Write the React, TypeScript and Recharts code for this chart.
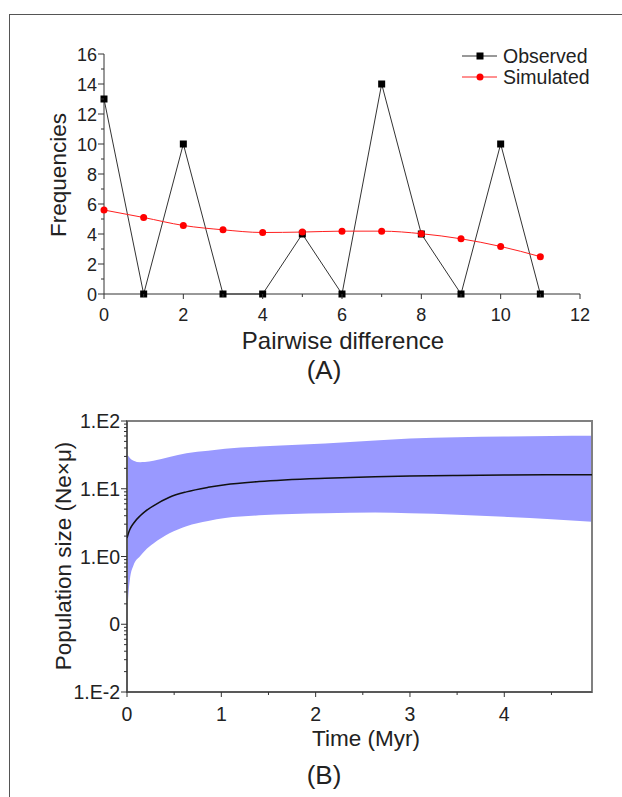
import React from "react";
import { ComposedChart, Line, Area, XAxis, YAxis, Legend, ReferenceArea } from "recharts";

const FONT = "'Liberation Sans', Arial, Helvetica, sans-serif";

// (A) mismatch distribution
const DIFF = [0, 1, 2, 3, 4, 5, 6, 7, 8, 9, 10, 11];
const OBSERVED = [13, 0, 10, 0, 0, 4, 0, 14, 4, 0, 10, 0];
const SIMULATED = [5.6, 5.1, 4.57, 4.28, 4.1, 4.13, 4.19, 4.19, 4.02, 3.68, 3.17, 2.49];
const DIFF_TICKS = [0, 1, 2, 3, 4, 5, 6, 7, 8, 9, 10, 11, 12];
const FREQ_TICKS = [0, 1, 2, 3, 4, 5, 6, 7, 8, 9, 10, 11, 12, 13, 14, 15, 16];

// (B) skyline plot
const TIME = [0, 0.01, 0.03, 0.07, 0.14, 0.19, 0.28, 0.45, 0.63, 0.86, 1.04, 1.4, 2.1, 2.63, 3, 3.5, 4, 4.5, 4.93];
const MEDIAN = [1.87, 2.1, 2.5, 3.1, 4.0, 4.6, 5.6, 7.5, 9.0, 10.5, 11.5, 12.8, 14.3, 15.0, 15.4, 15.7, 15.9, 16.05, 16.15];
const UPPER = [32, 31, 28.5, 26, 24.7, 24.8, 26, 29.5, 33.5, 36.5, 39, 42, 46.5, 51.5, 55, 57.5, 59, 60, 60.5];
const LOWER = [0.09, 0.2, 0.45, 0.75, 1.02, 1.22, 1.55, 2.2, 2.8, 3.35, 3.7, 4.05, 4.35, 4.45, 4.35, 4.15, 3.85, 3.55, 3.25];
const TIME_TICKS = [0, 0.5, 1, 1.5, 2, 2.5, 3, 3.5, 4, 4.5];
const TIME_MAX = 4.93;
const POP_MAJOR = [0.01, 0.1, 1, 10, 100];
const POP_LABELS = ["1.E-2", "0", "1.E0", "1.E1", "1.E2"];
const POP_MINOR = [
  0.02, 0.03, 0.04, 0.05, 0.06, 0.07, 0.08, 0.09,
  0.2, 0.3, 0.4, 0.5, 0.6, 0.7, 0.8, 0.9,
  2, 3, 4, 5, 6, 7, 8, 9,
  20, 30, 40, 50, 60, 70, 80, 90,
];

const freqData = DIFF.map((d, i) => ({ d, obs: OBSERVED[i], sim: SIMULATED[i] }));
const popData = TIME.map((t, i) => ({ t, band: [LOWER[i], UPPER[i]], med: MEDIAN[i] }));

const AXIS = "#333";
const TXT = "#222";

// ticks: axis sits tickSize + tickMargin (6 + 2) away from the label anchor
const FreqXTick = ({ x, y, payload }: any) => {
  const v = payload.value;
  const axisY = y - 8;
  const major = v % 2 === 0;
  return (
    <g>
      <line x1={x} x2={x} y1={axisY} y2={axisY + (major ? 5 : 3)} stroke={AXIS} />
      {major && (
        <text x={x} y={axisY + 26.5} textAnchor="middle" fontSize={18} fill={TXT} fontFamily={FONT}>
          {v}
        </text>
      )}
    </g>
  );
};

const FreqYTick = ({ x, y, payload }: any) => {
  const v = payload.value;
  const axisX = x + 8;
  const major = v % 2 === 0;
  return (
    <g>
      <line x1={axisX} x2={axisX - (major ? 6 : 3)} y1={y} y2={y} stroke={AXIS} />
      {major && (
        <text x={axisX - 7} y={y + 6.5} textAnchor="end" fontSize={18} fill={TXT} fontFamily={FONT}>
          {v}
        </text>
      )}
    </g>
  );
};

const TimeTick = ({ x, y, payload }: any) => {
  const v = payload.value;
  const axisY = y - 8;
  const major = Number.isInteger(v);
  return (
    <g>
      <line x1={x} x2={x} y1={axisY} y2={axisY + (major ? 5 : 3)} stroke={AXIS} />
      {major && (
        <text x={x} y={axisY + 29} textAnchor="middle" fontSize={19.5} fill={TXT} fontFamily={FONT}>
          {v}
        </text>
      )}
    </g>
  );
};

const PopTick = ({ x, y, payload }: any) => {
  const v = payload.value;
  const axisX = x + 8;
  const idx = POP_MAJOR.findIndex((m) => Math.abs(m - v) < m * 1e-6);
  const major = idx >= 0;
  return (
    <g>
      <line x1={axisX} x2={axisX - (major ? 6 : 3)} y1={y} y2={y} stroke={AXIS} />
      {major && (
        <text x={axisX - 7} y={y + 7} textAnchor="end" fontSize={19.5} fill={TXT} fontFamily={FONT}>
          {POP_LABELS[idx]}
        </text>
      )}
    </g>
  );
};

const SquareDot = ({ cx, cy }: any) => <rect x={cx - 3.5} y={cy - 3.5} width={7} height={7} fill="#000" />;

const renderLegend = () => (
  <svg width={150} height={50} style={{ display: "block" }}>
    <line x1={7} x2={42} y1={14} y2={14} stroke="#333" />
    <rect x={21.5} y={10.5} width={7} height={7} fill="#000" />
    <text x={48} y={21} fontSize={19.5} fill={TXT} fontFamily={FONT}>Observed</text>
    <line x1={7} x2={42} y1={35} y2={35} stroke="#ff2020" />
    <circle cx={25} cy={35} r={3.5} fill="#ff0000" />
    <text x={48} y={42} fontSize={19.5} fill={TXT} fontFamily={FONT}>Simulated</text>
  </svg>
);

export default function App() {
  return (
    <div style={{ position: "absolute", left: 0, top: 0, width: 622, height: 797, overflow: "hidden", background: "#fff" }}>
      {/* outer frame, only top and left edges fall inside the picture */}
      <div style={{ position: "absolute", left: 9, top: 14, width: 700, height: 900, border: "1.5px solid #555" }} />

      {/* (A) */}
      <div style={{ position: "absolute", left: 0, top: 0 }}>
        <ComposedChart width={622} height={400} data={freqData} margin={{ top: 54, right: 42, bottom: 76, left: 44 }}>
          <XAxis
            dataKey="d"
            type="number"
            domain={[0, 12]}
            ticks={DIFF_TICKS}
            interval={0}
            tickSize={6}
            tickMargin={2}
            tickLine={false}
            height={30}
            axisLine={{ stroke: AXIS }}
            tick={<FreqXTick />}
          />
          <YAxis
            type="number"
            domain={[0, 16]}
            ticks={FREQ_TICKS}
            interval={0}
            tickSize={6}
            tickMargin={2}
            tickLine={false}
            width={60}
            axisLine={{ stroke: AXIS }}
            tick={<FreqYTick />}
          />
          <Line
            dataKey="obs"
            name="Observed"
            type="linear"
            stroke="#333"
            strokeWidth={1}
            dot={<SquareDot />}
            isAnimationActive={false}
          />
          <Line
            dataKey="sim"
            name="Simulated"
            type="monotone"
            stroke="#ff2020"
            strokeWidth={1}
            dot={{ r: 3.5, fill: "#ff0000", stroke: "#ff0000", strokeWidth: 0 }}
            isAnimationActive={false}
          />
          <Legend
            layout="vertical"
            align="center"
            verticalAlign="middle"
            wrapperStyle={{ left: 455, top: 42, width: 150 }}
            content={renderLegend}
          />
        </ComposedChart>
      </div>

      {/* (B) */}
      <div style={{ position: "absolute", left: 0, top: 400 }}>
        <ComposedChart width={622} height={397} data={popData} margin={{ top: 21, right: 30, bottom: 75, left: 67 }}>
          <XAxis
            dataKey="t"
            type="number"
            domain={[0, TIME_MAX]}
            ticks={TIME_TICKS}
            interval={0}
            allowDataOverflow
            tickSize={6}
            tickMargin={2}
            tickLine={false}
            height={30}
            axisLine={{ stroke: AXIS }}
            tick={<TimeTick />}
          />
          <YAxis
            type="number"
            scale="log"
            domain={[0.01, 100]}
            ticks={[...POP_MAJOR, ...POP_MINOR]}
            interval={0}
            allowDataOverflow
            tickSize={6}
            tickMargin={2}
            tickLine={false}
            width={60}
            axisLine={{ stroke: AXIS }}
            tick={<PopTick />}
          />
          <Area
            dataKey="band"
            type="monotone"
            fill="#9999ff"
            fillOpacity={1}
            stroke="none"
            isAnimationActive={false}
          />
          <Line dataKey="med" type="monotone" stroke="#111" strokeWidth={1.5} dot={false} isAnimationActive={false} />
          <ReferenceArea x1={0} x2={TIME_MAX} y1={0.01} y2={100} fill="none" stroke="#808080" strokeWidth={2} />
        </ComposedChart>
      </div>

      {/* axis titles and panel letters */}
      <svg width={622} height={797} style={{ position: "absolute", left: 0, top: 0, pointerEvents: "none" }}>
        <text x={58} y={175} transform="rotate(-90 58 175)" dy={8} textAnchor="middle" fontSize={22.5} fill={TXT} fontFamily={FONT}>
          Frequencies
        </text>
        <text x={343} y={349} textAnchor="middle" fontSize={24} fill={TXT} fontFamily={FONT}>
          Pairwise difference
        </text>
        <text x={324} y={379} textAnchor="middle" fontSize={26} fill={TXT} fontFamily={FONT}>
          (A)
        </text>
        <text x={63} y={556} transform="rotate(-90 63 556)" dy={8} textAnchor="middle" fontSize={22.5} fill={TXT} fontFamily={FONT}>
          Population size (Ne×μ)
        </text>
        <text x={366} y={746} textAnchor="middle" fontSize={22.5} fill={TXT} fontFamily={FONT}>
          Time (Myr)
        </text>
        <text x={324} y={784} textAnchor="middle" fontSize={26} fill={TXT} fontFamily={FONT}>
          (B)
        </text>
      </svg>
    </div>
  );
}
